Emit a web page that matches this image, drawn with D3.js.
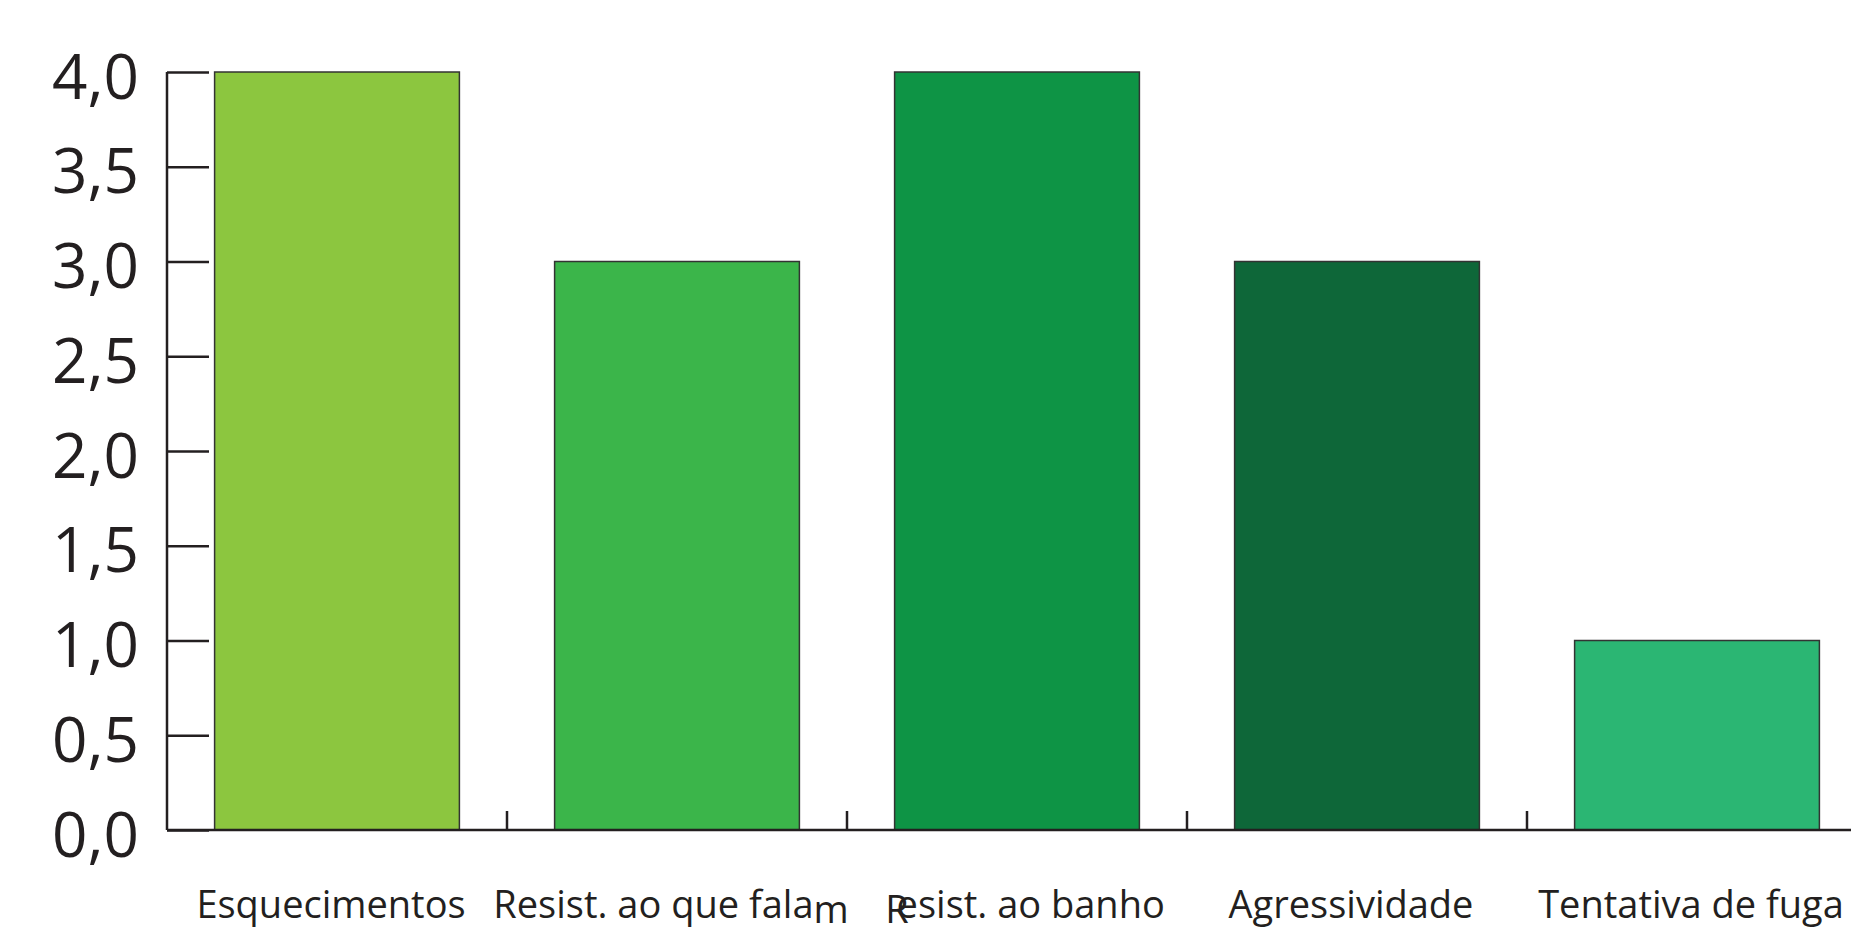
<!DOCTYPE html>
<html>
<head>
<meta charset="utf-8">
<script src="https://cdn.jsdelivr.net/npm/d3@7"></script>
<style>
  html, body { margin: 0; padding: 0; background: #fff; }
  svg { display: block; }
</style>
</head>
<body>
<svg id="chart" width="1851" height="929"></svg>
<script>
// Behaviour categories and their scores
const categories = ["Esquecimentos", "Resist. ao que falam", "Resist. ao banho", "Agressividade", "Tentativa de fuga"];
const values = [4.0, 3.0, 4.0, 3.0, 1.0];
const barColors = ["#8cc63f", "#3bb54a", "#0e9445", "#0e6739", "#2bb673"];
const yTicks = [0, 0.5, 1, 1.5, 2, 2.5, 3, 3.5, 4];

const svg = d3.select("#chart");
const ink = "#231f20";

const plotLeft = 167, plotBottom = 830, plotTop = 72;
const step = 340;

const x = d3.scaleBand()
  .domain(categories)
  .range([plotLeft, plotLeft + step * categories.length])
  .paddingInner(0.28)
  .paddingOuter(0.14);

const y = d3.scaleLinear().domain([0, 4]).range([plotBottom, plotTop]);

// Bars
svg.append("g").selectAll("rect")
  .data(categories)
  .join("rect")
  .attr("x", d => x(d))
  .attr("y", (d, i) => y(values[i]))
  .attr("width", x.bandwidth())
  .attr("height", (d, i) => y(0) - y(values[i]))
  .attr("fill", (d, i) => barColors[i])
  .attr("stroke", "#333")
  .attr("stroke-width", 1.5);

// Y axis: ticks point inward, comma decimals
const fmt = d => d3.format(".1f")(d).replace(".", ",");
const yAxis = svg.append("g")
  .attr("transform", `translate(${plotLeft},0)`)
  .call(d3.axisRight(y).tickValues(yTicks).tickSize(42).tickFormat(fmt));
yAxis.select(".domain").remove();
yAxis.selectAll(".tick line").attr("stroke", ink).attr("stroke-width", 2.5);
yAxis.selectAll(".tick text")
  .attr("x", -28)
  .attr("dy", "0.42em")
  .attr("text-anchor", "end")
  .attr("fill", ink)
  .style("font-family", "'Open Sans', sans-serif")
  .style("font-size", "62px");
svg.append("line")
  .attr("x1", plotLeft).attr("x2", plotLeft)
  .attr("y1", y(4)).attr("y2", y(0))
  .attr("stroke", ink).attr("stroke-width", 2.5);

// X axis baseline
svg.append("line")
  .attr("x1", plotLeft).attr("x2", 1851)
  .attr("y1", plotBottom).attr("y2", plotBottom)
  .attr("stroke", ink).attr("stroke-width", 2.5);

// Separator ticks between categories
const seps = categories.slice(1).map(c => x(c) - x.step() * x.paddingInner() / 2);
svg.append("g").selectAll("line")
  .data(seps)
  .join("line")
  .attr("x1", d => d).attr("x2", d => d)
  .attr("y1", plotBottom).attr("y2", plotBottom - 19)
  .attr("stroke", ink).attr("stroke-width", 2.5);

// Category labels
const labels = svg.append("g")
  .style("font-family", "'Open Sans', sans-serif")
  .style("font-size", "38px")
  .attr("fill", ink);

categories.forEach((c, i) => {
  const cx = x(c) + x.bandwidth() / 2 - 6;
  const t = labels.append("text")
    .attr("x", cx)
    .attr("y", 918)
    .attr("text-anchor", "middle");
  if (c === "Resist. ao que falam") {
    t.append("tspan").text("Resist. ao que fala");
    t.append("tspan").attr("dy", 5).text("m");
  } else if (c === "Resist. ao banho") {
    t.attr("x", cx + 14);
    t.append("tspan").attr("dy", 5).text("R");
    t.append("tspan").attr("dy", -5).attr("dx", -12).text("esist. ao banho");
  } else {
    t.text(c);
  }
});
</script>
</body>
</html>
